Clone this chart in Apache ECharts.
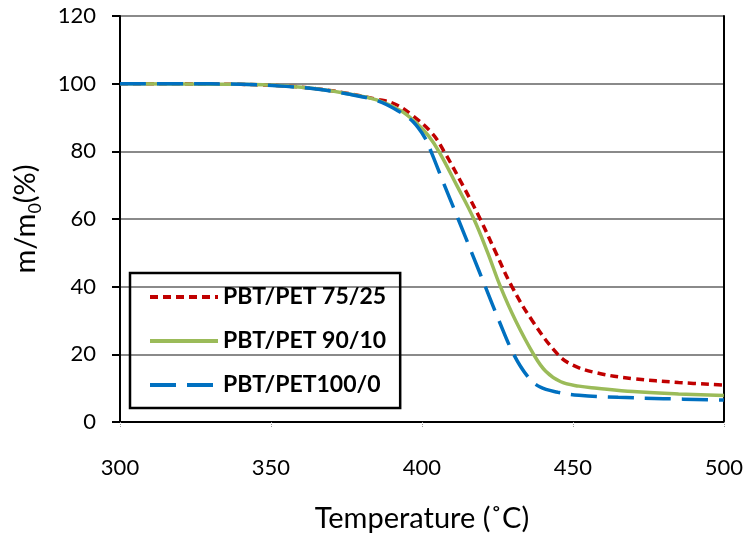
<!DOCTYPE html>
<html>
<head>
<meta charset="utf-8">
<script src="https://cdn.jsdelivr.net/npm/echarts@6/dist/echarts.min.js"></script>
<style>
  html, body { margin: 0; padding: 0; background: #fff; }
  #mychart { width: 746px; height: 538px; }
</style>
</head>
<body>
<div id="mychart"></div>
<script>
// data
const names = ["PBT/PET 75/25", "PBT/PET 90/10", "PBT/PET100/0"];

const t7525 = [300, 340, 355, 365, 375, 385, 391, 397, 403.4, 407.3, 413.5, 419.3, 424.5, 429.8, 436.5, 445, 450, 458, 470, 485, 500];
const m7525 = [100, 99.8, 99.3, 98.5, 97.2, 95.4, 94, 90.5, 85.3, 80, 70, 60, 50, 40, 30, 20, 16.8, 14.5, 12.8, 11.7, 10.9];

const t9010 = [300, 340, 355, 365, 375, 385, 393, 398, 402, 405.6, 411.5, 417.2, 421.8, 426, 431, 437, 441, 446, 452, 458, 470, 485, 500];
const m9010 = [100, 99.8, 99.3, 98.5, 97.1, 95.2, 92, 88.5, 84.8, 80, 70, 60, 50, 40, 30, 20, 15, 11.9, 10.6, 10, 9, 8.3, 7.8];

const t1000 = [300, 320, 340, 355, 365, 375, 385, 392, 397, 401, 403, 407, 412, 416.5, 421, 425.5, 430.4, 435, 439, 445, 452, 465, 480, 500];
const m1000 = [100, 100, 99.8, 99.2, 98.4, 97, 95, 92, 88.8, 84, 80, 71, 60, 50, 40, 30, 20, 13.5, 10.4, 8.8, 7.9, 7.3, 6.9, 6.5];

const xTicks = [300, 350, 400, 450, 500];
const yTicks = [0, 20, 40, 60, 80, 100, 120];

function pairs(t, m) {
  return t.map((v, i) => [v, m[i]]);
}

const font = "Lato, 'Open Sans', sans-serif";

const option = {
  animation: false,
  grid: { left: 120, right: 22, top: 16, bottom: 116 },
  legend: {
    data: names,
    orient: "vertical",
    left: 130,
    top: 273,
    padding: [12, 14, 11, 18],
    itemWidth: 68,
    itemHeight: 14,
    itemGap: 20,
    borderColor: "#000",
    borderWidth: 2.5,
    itemStyle: { opacity: 0 },   // hide the dot on the legend line
    lineStyle: { width: 4 },
    textStyle: { fontFamily: font, fontWeight: "bold", fontSize: 23, lineHeight: 24, color: "#000" }
  },
  xAxis: [
    {
      type: "value",
      min: xTicks[0],
      max: xTicks[xTicks.length - 1],
      interval: 50,
      name: "Temperature (˚C)",
      nameLocation: "middle",
      nameGap: 82,
      nameTextStyle: { fontFamily: font, fontSize: 29, color: "#000" },
      axisLine: { lineStyle: { color: "#555", width: 2, type: [2, 1] } },
      axisTick: { show: true, length: 5, lineStyle: { color: "#999", type: "dotted" } },
      axisLabel: { margin: 35, fontFamily: font, fontSize: 22, color: "#000" },
      splitLine: { show: false }
    },
    {
      type: "value",
      position: "top",
      min: xTicks[0],
      max: xTicks[xTicks.length - 1],
      axisLine: { show: true, lineStyle: { color: "#000", width: 2 } },
      axisTick: { show: false },
      axisLabel: { show: false },
      splitLine: { show: false }
    }
  ],
  yAxis: [
    {
      type: "value",
      min: yTicks[0],
      max: yTicks[yTicks.length - 1],
      interval: 20,
      name: "{a|m/m}{s|0}{a|(%)}",
      nameLocation: "middle",
      nameGap: 76,
      nameRotate: 90,
      nameTextStyle: {
        rich: {
          a: { fontFamily: font, fontSize: 29, color: "#000", lineHeight: 36 },
          s: { fontFamily: font, fontSize: 18, color: "#000", lineHeight: 18, verticalAlign: "bottom" }
        }
      },
      axisLine: { show: true, lineStyle: { color: "#000", width: 2 } },
      axisTick: { show: true, inside: false, length: 8, lineStyle: { color: "#000", width: 2 } },
      axisLabel: { margin: 24, fontFamily: font, fontSize: 22, color: "#000" },
      splitLine: { show: true, lineStyle: { color: "#8a8a8a", width: 2 } }
    },
    {
      type: "value",
      position: "right",
      min: yTicks[0],
      max: yTicks[yTicks.length - 1],
      axisLine: { show: true, lineStyle: { color: "#000", width: 2 } },
      axisTick: { show: false },
      axisLabel: { show: false },
      splitLine: { show: false }
    }
  ],
  series: [
    {
      name: names[0],
      type: "line",
      smooth: 0.4,
      symbol: "none",
      data: pairs(t7525, m7525),
      lineStyle: { color: "#C00000", width: 3.5, type: [8, 5] },
      itemStyle: { color: "#C00000" },
      z: 3
    },
    {
      name: names[1],
      type: "line",
      smooth: 0.4,
      symbol: "none",
      data: pairs(t9010, m9010),
      lineStyle: { color: "#9BBB59", width: 3.5, type: "solid" },
      itemStyle: { color: "#9BBB59" },
      z: 4
    },
    {
      name: names[2],
      type: "line",
      smooth: 0.4,
      symbol: "none",
      data: pairs(t1000, m1000),
      lineStyle: { color: "#0070C0", width: 3.5, type: [26, 11] },
      itemStyle: { color: "#0070C0" },
      z: 5
    }
  ]
};

const myChart = echarts.init(document.getElementById("mychart"));
myChart.setOption(option);
</script>
</body>
</html>
